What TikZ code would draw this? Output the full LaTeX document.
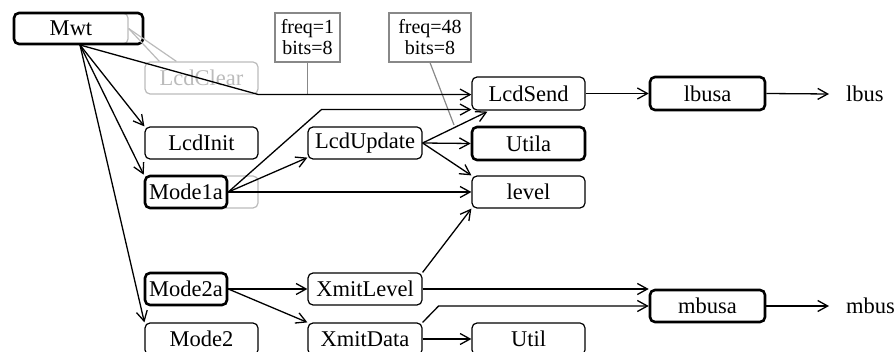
\documentclass[tikz,border=0pt]{standalone}
\usepackage{fontspec}
\setmainfont{Liberation Serif}
\usetikzlibrary{arrows.meta,calc}
\definecolor{ghostgray}{HTML}{BBBBBB}
\definecolor{labelgray}{HTML}{888888}
\begin{document}
\begin{tikzpicture}[x=1pt,y=-1pt,
  nbox/.style={draw, rounded corners=5pt, line width=1.2pt, minimum height=32pt, inner sep=0pt, font=\fontsize{22.5}{24}\selectfont},
  thickbox/.style={nbox, line width=2.6pt},
  ghost/.style={nbox, draw=ghostgray, text=ghostgray},
  lbl/.style={draw=labelgray, line width=1.2pt, inner sep=0pt, minimum height=49pt, align=center, font=\fontsize{20}{21}\selectfont},
  conn/.style={line width=1.3pt, -{Straight Barb[length=10pt,width=11pt,line width=1.3pt]}},
  txt/.style={inner sep=0pt, font=\fontsize{22.5}{24}\selectfont, anchor=west}
]
\useasboundingbox (0,0) rectangle (896,352);
% ghost layer
\node[ghost, text=black, minimum width=114pt, minimum height=31pt] (mwtg) at (71,28.5) {Mwt};
\node[thickbox, minimum width=129pt, minimum height=31pt] (Mwt) at (78.5,28.5) {};
\node[ghost, minimum width=113pt] (LcdClear) at (201.5,78) {LcdClear};
\node[ghost, minimum width=113pt] (m1g) at (201.5,192) {};
% label boxes
\node[lbl, minimum width=65pt] (f1) at (307.5,37.5) {freq=1\\bits=8};
\node[lbl, minimum width=82pt] (f48) at (430,37.5) {freq=48\\bits=8};
% nodes
\node[nbox, minimum width=113pt, minimum height=33pt] (LcdSend) at (528.5,93.5) {LcdSend};
\node[thickbox, minimum width=115pt, minimum height=33pt] (lbusa) at (707.5,93.5) {lbusa};
\node[nbox, minimum width=113pt] (LcdInit) at (201.5,143) {LcdInit};
\node[nbox, minimum width=114pt] (LcdUpdate) at (365,143) {LcdUpdate};
\node[thickbox, minimum width=113pt, minimum height=33pt] (Utila) at (528.5,143.5) {Utila};
\node[thickbox, minimum width=82pt] (Mode1a) at (186,192) {Mode1a};
\node[nbox, minimum width=113pt] (level) at (528.5,192) {level};
\node[thickbox, minimum width=82pt] (Mode2a) at (186,289) {Mode2a};
\node[nbox, minimum width=114pt] (XmitLevel) at (365,289) {XmitLevel};
\node[thickbox, minimum width=115pt] (mbusa) at (707.5,306) {mbusa};
\node[nbox, minimum width=113pt] (Mode2) at (201.5,339) {Mode2};
\node[nbox, minimum width=114pt] (XmitData) at (365,339) {XmitData};
\node[nbox, minimum width=113pt] (Util) at (528.5,339) {Util};
\node[txt] (lbus) at (846,94) {lbus};
\node[txt] (mbus) at (846,306) {mbus};
\coordinate (mo) at (80,45);
\coordinate (f48end) at (454,125);
\coordinate (xd1) at ($(XmitData.north east)+(16,0)$);
\coordinate (m1k) at ($(LcdSend.south west)+(-150,-1)$);
% ghost connectors
\draw[ghostgray, line width=1.2pt] (mwtg.east) -- ($(LcdClear.north west)+(15,0)$);
\draw[ghostgray, line width=1.2pt] (mwtg.east) -- ($(LcdClear.north west)+(32,0)$);
% label connectors
\draw[labelgray, line width=1.2pt] (f1.south) -- (f1.south |- LcdClear.south);
\draw[labelgray, line width=1.2pt] (f48.south) -- (f48end);
% connectors from Mwt
\draw[conn] (mo) -- (LcdClear.south east) -- (LcdClear.south east -| LcdSend.west);
\draw[conn] (mo) -- (LcdInit.north west);
\draw[conn] (mo) -- (Mode1a.north west);
\draw[conn] (mo) -- (Mode2.north west);
% Mode1a
\draw[conn] (Mode1a.east) -- (m1k) -- (m1k -| LcdSend.west);
\draw[conn] (Mode1a.east) -- ($(LcdUpdate.south west)+(0,-2)$);
\draw[conn] (Mode1a.east) -- (level.west);
% LcdUpdate
\draw[conn] (LcdUpdate.east) -- ($(LcdSend.south west)+(16,1)$);
\draw[conn] (LcdUpdate.east) -- (Utila.west);
\draw[conn] (LcdUpdate.east) -- (level.north west);
% Mode2a
\draw[conn] (Mode2a.east) -- (XmitLevel.west);
\draw[conn] (Mode2a.east) -- (XmitData.north west);
% XmitLevel
\draw[conn] (XmitLevel.north east) -- (level.south west);
\draw[conn] (XmitLevel.east) -- (XmitLevel.east -| mbusa.west);
% XmitData
\draw[conn] (XmitData.north east) -- (xd1 |- mbusa.west) -- (mbusa.west);
\draw[conn] (XmitData.east) -- (Util.west);
% outputs
\draw[conn] (LcdSend.east) -- (lbusa.west);
\draw[conn] (lbusa.east) -- ($(lbus.west)+(-17,0)$);
\draw[conn] (mbusa.east) -- ($(mbus.west)+(-17,0)$);
\end{tikzpicture}
\end{document}
